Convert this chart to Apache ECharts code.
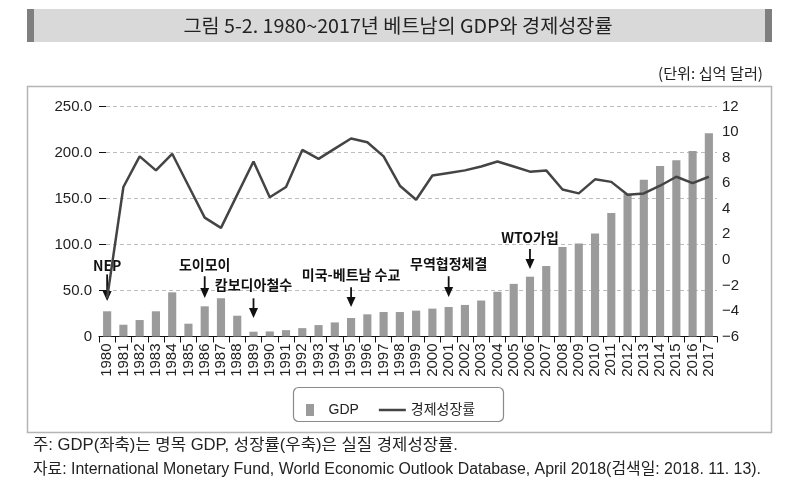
<!DOCTYPE html>
<html><head><meta charset="utf-8">
<script src="https://cdn.jsdelivr.net/npm/echarts@6/dist/echarts.min.js"></script>
<style>html,body{margin:0;padding:0;background:#fff}#c{width:800px;height:498px}</style>
</head><body><div id="c"></div>
<script>
const years = ['1980','1981','1982','1983','1984','1985','1986','1987','1988','1989','1990','1991','1992','1993','1994','1995','1996','1997','1998','1999','2000','2001','2002','2003','2004','2005','2006','2007','2008','2009','2010','2011','2012','2013','2014','2015','2016','2017'];
const gdp = [27.4,12.8,17.9,27.4,48.0,13.9,32.8,41.6,22.6,5.2,5.5,6.9,9.1,12.4,15.3,20.1,24.1,26.6,26.6,28.1,30.3,32.1,34.3,39.1,48.6,57.2,65.0,76.6,97.4,101.1,112.0,134.3,155.1,170.4,185.4,191.6,201.5,220.8];
const growth = [-3.0,5.7,8.1,7.0,8.3,5.8,3.3,2.5,5.1,7.7,4.9,5.7,8.6,7.9,8.7,9.5,9.2,8.1,5.8,4.7,6.6,6.8,7.0,7.3,7.7,7.3,6.9,7.0,5.5,5.2,6.3,6.1,5.1,5.2,5.8,6.5,6.0,6.5];
const leftAxis = {min:0, max:250, interval:50};
const rightAxis = {min:-6, max:12, interval:2};
const annoYears = ['1980','1986','1989','1995','2001','2006'];
const annoTexts = ['NEP','도이모이','캄보디아철수','미국-베트남 수교','무역협정체결','WTO가입'];
const annoTextAt = [76.7,77.8,56.0,66.9,79.4,107.7];
const arrowFrom = [67.5,65.5,41.5,53.5,65.5,95.0];
const arrowTo = [38.6,41.9,20.1,32.1,43.0,73.4];
const titleText = '그림 5-2. 1980~2017년 베트남의 GDP와 경제성장률';
const unitText = '(단위: 십억 달러)';
const note1 = '주: GDP(좌축)는 명목 GDP, 성장률(우축)은 실질 경제성장률.';
const note2 = '자료: International Monetary Fund, World Economic Outlook Database, April 2018(검색일: 2018. 11. 13).';

const LAT = '"Liberation Sans", Arial, "Noto Sans CJK KR", sans-serif';
const KR = '"Noto Sans CJK KR", "Liberation Sans", sans-serif';
const mctx = document.createElement('canvas').getContext('2d');
function measure(t, f){ mctx.font = f; return mctx.measureText(t).width; }
const noteFont = '16px ' + LAT;
const s1 = 425 / measure(note1, noteFont);
const s2 = 728 / measure(note2, noteFont);
const titleFont = '19px ' + KR;
const sT = 429 / measure(titleText, titleFont);
const unitFont = '15px ' + KR;
const sU = 105 / measure(unitText, unitFont);

const chart = echarts.init(document.getElementById('c'));
function renderAnno(params, api){
  const i = params.dataIndex;
  const pTop = api.coord([api.value(0), api.value(1)]);
  const pTip = api.coord([api.value(0), api.value(2)]);
  const pTxt = api.coord([api.value(0), api.value(3)]);
  const head = 10, hw = 4.5;
  return {type:'group', children:[
    {type:'line', shape:{x1:pTop[0], y1:pTop[1], x2:pTip[0], y2:pTip[1]-head+1}, style:{stroke:'#111', lineWidth:1.8}},
    {type:'polygon', shape:{points:[[pTip[0]-hw, pTip[1]-head],[pTip[0]+hw, pTip[1]-head],[pTip[0], pTip[1]]]}, style:{fill:'#111'}},
    {type:'text', x:pTxt[0], y:pTxt[1], style:{text:annoTexts[i], font:'bold 14px ' + KR, fill:'#111', align:'center', verticalAlign:'middle', textAlign:'center', textVerticalAlign:'middle'}}
  ]};
}
chart.setOption({
  animation:false,
  grid:{left:99, right:83, top:106.5, bottom:161.5, containLabel:false},
  legend:{
    data:[{name:'GDP', icon:'path://M0,0h8v12h-8z'},{name:'경제성장률', icon:'path://M0,0h27v2.5h-27z'}],
    left:301, top:398, itemWidth:27, itemHeight:12, itemGap:20, selectedMode:false,
    itemStyle:{borderWidth:0},
    textStyle:{fontSize:14, color:'#222', fontFamily:LAT}
  },
  xAxis:{type:'category', data:years, boundaryGap:true,
    axisLine:{lineStyle:{color:'#111', width:1}},
    axisTick:{show:true, length:6, lineStyle:{color:'#111'}},
    axisLabel:{rotate:90, interval:0, fontSize:15, color:'#222', margin:7, fontFamily:LAT}
  },
  yAxis:[
    {type:'value', min:leftAxis.min, max:leftAxis.max, interval:leftAxis.interval,
     axisLine:{show:false}, axisTick:{show:true, inside:true, length:7, lineStyle:{color:'#111'}},
     splitLine:{lineStyle:{type:[4,3], color:'#bdbdbd'}},
     axisLabel:{fontSize:15, color:'#222', margin:7, fontFamily:LAT, formatter:v => v === 0 ? '0' : v.toFixed(1)}},
    {type:'value', min:rightAxis.min, max:rightAxis.max, interval:rightAxis.interval, position:'right',
     axisLine:{show:false}, axisTick:{show:false}, splitLine:{show:false},
     axisLabel:{fontSize:15, color:'#222', margin:5, fontFamily:LAT, formatter:v => String(v).replace('-', '\u2212')}}
  ],
  series:[
    {name:'GDP', type:'bar', data:gdp, yAxisIndex:0, barWidth:'50%', itemStyle:{color:'#9b9b9b'}},
    {name:'anno', type:'custom', yAxisIndex:0, renderItem:renderAnno, silent:true, z:3,
     data:annoYears.map((y,i)=>[y, arrowFrom[i], arrowTo[i], annoTextAt[i]])},
    {name:'경제성장률', type:'line', data:growth, yAxisIndex:1, showSymbol:false, symbol:'none', z:4,
     lineStyle:{color:'#444', width:2.5}, itemStyle:{color:'#444'}}
  ],
  graphic:[
    {type:'rect', shape:{x:27, y:9, width:745, height:33}, style:{fill:'#d9d9d9'}, silent:true},
    {type:'rect', shape:{x:27, y:9, width:7, height:33}, style:{fill:'#7f7f7f'}, silent:true},
    {type:'rect', shape:{x:765, y:9, width:7, height:33}, style:{fill:'#7f7f7f'}, silent:true},
    {type:'text', x:398, y:26, scaleX:sT, style:{text:titleText, font:titleFont, fill:'#222', align:'center', verticalAlign:'middle'}},
    {type:'text', x:763, y:73, scaleX:sU, style:{text:unitText, font:unitFont, fill:'#222', align:'right', verticalAlign:'middle'}},
    {type:'rect', shape:{x:27.5, y:86.5, width:744, height:346}, style:{fill:'none', stroke:'#b5b5b5', lineWidth:1.5}, silent:true},
    {type:'rect', shape:{x:293.5, y:387.5, width:210, height:34, r:5}, style:{fill:'none', stroke:'#8a8a8a', lineWidth:1.2}, silent:true},
    {type:'text', x:33, y:446, scaleX:s1, style:{text:note1, font:noteFont, fill:'#222', align:'left', verticalAlign:'middle'}},
    {type:'text', x:33, y:470, scaleX:s2, style:{text:note2, font:noteFont, fill:'#222', align:'left', verticalAlign:'middle'}}
  ]
});
</script></body></html>
